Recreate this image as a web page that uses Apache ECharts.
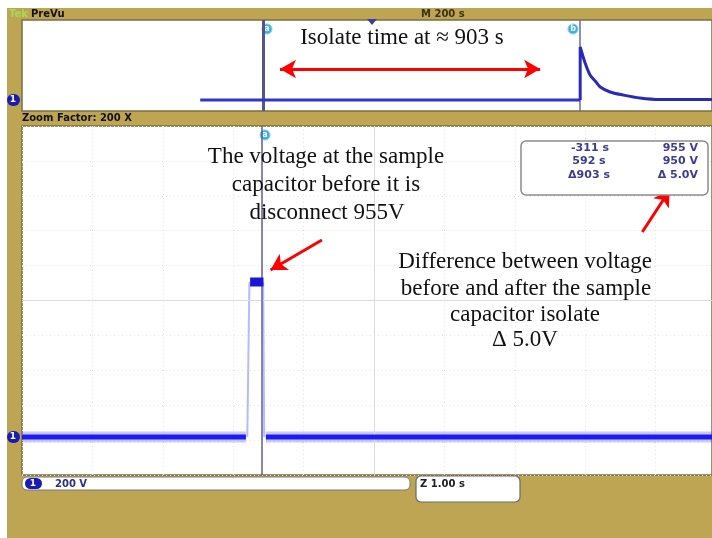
<!DOCTYPE html>
<html>
<head>
<meta charset="utf-8">
<script src="https://cdn.jsdelivr.net/npm/echarts@6/dist/echarts.min.js"></script>
<style>
  html, body { margin: 0; padding: 0; background: #fff; }
  #chart { width: 712px; height: 538px; }
</style>
</head>
<body>
<div id="chart"></div>
<script>
  // PreVu window (200 s/div), time in s, ch1 in V
  var preBase = [[-489, 0], [592, 0]];
  var preDecay = [[592, 0], [592, 955], [606, 667], [620, 450], [637, 324], [649, 234],
                  [677, 144], [714, 90], [762, 36], [819, 9], [967, 9]];
  var preCursors = [-311, 592];

  // zoom window (1 s/div, 200 V/div)
  var mainBaseLeft = [[-5, 0], [-1.82, 0]];
  var mainRiseEdge = [[-1.80, 0], [-1.77, 955]];
  var mainPulseTop = [[-1.76, 955], [-1.57, 955]];
  var mainFallEdge = [[-1.575, 955], [-1.56, 0]];
  var mainBaseRight = [[-1.536, 0], [4.8, 0]];
  var mainCursorA = -1.593;

  // cursor readout
  var readTimes = ['-311 s', '592 s', '\u0394903 s'];
  var readVolts = ['955 V', '950 V', '\u0394 5.0V'];

  var tan = '#bea553';
  var trace = '#1c1cf0';
  var red = '#ff0000';
  var serif = '"Liberation Serif", serif';
  var sans = '"DejaVu Sans", sans-serif';

  var myChart = echarts.init(document.getElementById('chart'));

  function txt(x, y, s, opt) {
    opt = opt || {};
    return {
      type: 'text', x: x, y: y, z: 100,
      style: {
        text: s,
        fill: opt.color || '#111',
        font: opt.font || ('23px ' + serif),
        textAlign: opt.align || 'center',
        textVerticalAlign: 'middle'
      }
    };
  }
  function cursorDot(x, y, letter) {
    return {
      type: 'group', x: x, y: y, z: 100,
      children: [
        { type: 'circle', shape: { cx: 0, cy: 0, r: 5 }, style: { fill: '#3ab0e4', stroke: '#7fd0f2', lineWidth: 1 } },
        { type: 'text', style: { text: letter, x: 0, y: 0, fill: '#fff', font: 'bold 8px ' + sans, textAlign: 'center', textVerticalAlign: 'middle' } }
      ]
    };
  }
  function arrow(p1, p2, both) {
    return {
      silent: true,
      symbol: [both ? 'arrow' : 'none', 'arrow'],
      symbolSize: [14, 16],
      label: { show: false },
      lineStyle: { color: red, width: 3, type: 'solid' },
      data: [[{ coord: p1 }, { coord: p2 }]]
    };
  }

  var graphics = [
    // white margin strips of the screenshot
    { type: 'rect', shape: { x: 0, y: 0, width: 712, height: 8 }, style: { fill: '#fff' }, z: 1 },
    { type: 'rect', shape: { x: 0, y: 0, width: 7, height: 538 }, style: { fill: '#fff' }, z: 1 },
    txt(9, 14, 'Tek', { font: 'bold 10px ' + sans, color: '#a6d85a', align: 'left' }),
    txt(31, 14, 'PreVu', { font: 'bold 10px ' + sans, color: '#111', align: 'left' }),
    txt(421, 14, 'M 200 s', { font: 'bold 10px ' + sans, color: '#3a3212', align: 'left' }),
    { type: 'polygon', z: 100, shape: { points: [[367, 19], [377, 19], [372, 25]] }, style: { fill: '#3c3c9c' } },
    txt(22, 118, 'Zoom Factor: 200 X', { font: 'bold 10px ' + sans, color: '#111', align: 'left' }),

    // channel markers
    { type: 'rect', z: 100, shape: { x: 7, y: 94, width: 13, height: 12, r: 6 }, style: { fill: '#1a1ab4' } },
    txt(13, 100, '1', { font: 'bold 9px ' + sans, color: '#fff' }),
    { type: 'rect', z: 100, shape: { x: 7, y: 431, width: 13, height: 12, r: 6 }, style: { fill: '#1a1ab4' } },
    txt(13, 437, '1', { font: 'bold 9px ' + sans, color: '#fff' }),

    // cursor labels
    cursorDot(267, 29, 'a'),
    cursorDot(573, 29, 'b'),
    cursorDot(265, 135, 'a'),

    // cursor readout box
    { type: 'rect', z: 90, shape: { x: 521, y: 141, width: 187, height: 54, r: 5 }, style: { fill: '#fff', stroke: '#8c8c8c', lineWidth: 1.5 } },
    cursorDot(541, 148, 'a'),
    cursorDot(541, 161, 'b'),
    txt(590, 148, readTimes[0], { font: 'bold 11px ' + sans, color: '#3c3c98' }),
    txt(589, 161, readTimes[1], { font: 'bold 11px ' + sans, color: '#3c3c98' }),
    txt(589, 175, readTimes[2], { font: 'bold 11px ' + sans, color: '#3c3c98' }),
    txt(698, 148, readVolts[0], { font: 'bold 11px ' + sans, color: '#3c3c98', align: 'right' }),
    txt(698, 161, readVolts[1], { font: 'bold 11px ' + sans, color: '#3c3c98', align: 'right' }),
    txt(698, 175, readVolts[2], { font: 'bold 11px ' + sans, color: '#3c3c98', align: 'right' }),

    // bottom status boxes
    { type: 'rect', z: 90, shape: { x: 22, y: 477, width: 388, height: 13, r: 5 }, style: { fill: '#fff', stroke: '#7a7a7a', lineWidth: 1 } },
    { type: 'rect', z: 95, shape: { x: 25, y: 478, width: 17, height: 11, r: 5.5 }, style: { fill: '#1a1ab4' } },
    txt(33, 484, '1', { font: 'bold 9px ' + sans, color: '#fff' }),
    txt(55, 484, '200 V', { font: 'bold 10px ' + sans, color: '#2c2c8c', align: 'left' }),
    { type: 'rect', z: 90, shape: { x: 416, y: 476, width: 104, height: 26, r: 5 }, style: { fill: '#fff', stroke: '#6a6a6a', lineWidth: 1.2 } },
    txt(420, 484, 'Z 1.00 s', { font: 'bold 10px ' + sans, color: '#222', align: 'left' }),

    // annotations
    txt(402, 38, 'Isolate time at \u2248 903 s'),
    txt(326, 157, 'The voltage at the sample'),
    txt(326, 185, 'capacitor before it is'),
    txt(327, 213, 'disconnect 955V'),
    txt(525, 262, 'Difference between voltage'),
    txt(526, 289, 'before and after the sample'),
    txt(525, 315, 'capacitor isolate'),
    txt(525, 340, '\u0394 5.0V')
  ];

  var gridLine = { color: '#e4e4e4', type: [1, 3], width: 1 };

  var option = {
    animation: false,
    backgroundColor: tan,
    graphic: graphics,
    grid: [
      { left: 22, top: 20, width: 690, height: 91, show: true, backgroundColor: '#fff', borderColor: '#7d6d42', borderWidth: 1.5 },
      { left: 22, top: 126, width: 690, height: 349, show: true, backgroundColor: '#fff', borderColor: '#7d6d42', borderWidth: 1.5 }
    ],
    xAxis: [
      { gridIndex: 0, type: 'value', min: -996, max: 967, show: false },
      { gridIndex: 1, type: 'value', min: -5, max: 4.8, interval: 1, show: true,
        axisLine: { show: false }, axisTick: { show: false }, axisLabel: { show: false },
        splitLine: { show: true, lineStyle: gridLine } }
    ],
    yAxis: [
      { gridIndex: 0, type: 'value', min: -198, max: 1441, show: false },
      { gridIndex: 1, type: 'value', min: -234, max: 1916, show: false },
      { gridIndex: 1, type: 'value', min: 0, max: 10, interval: 1, position: 'right', show: true,
        axisLine: { show: false }, axisTick: { show: false }, axisLabel: { show: false },
        splitLine: { show: true, lineStyle: gridLine } }
    ],
    series: [
      // PreVu trace
      { type: 'line', xAxisIndex: 0, yAxisIndex: 0, data: preBase, symbol: 'none', z: 5,
        lineStyle: { color: '#3434c8', width: 3 },
        markLine: arrow([-262, 559], [478, 559], true) },
      { type: 'line', xAxisIndex: 0, yAxisIndex: 0, data: preDecay, symbol: 'none', smooth: 0.3, z: 5,
        lineStyle: { color: '#2a2ab8', width: 3 } },
      // PreVu cursors
      { type: 'line', xAxisIndex: 0, yAxisIndex: 0, data: [], z: 6,
        markLine: { silent: true, symbol: 'none', label: { show: false },
          data: [
            { xAxis: preCursors[0], lineStyle: { color: '#55558e', width: 3, type: 'solid' } },
            { xAxis: preCursors[1], lineStyle: { color: '#6a6aa8', width: 1.5, type: 'solid' } }
          ] } },

      // zoom graticule centre lines
      { type: 'line', xAxisIndex: 1, yAxisIndex: 2, data: [], z: 3,
        markLine: { silent: true, symbol: 'none', label: { show: false },
          lineStyle: { color: '#dcdcdc', width: 1, type: 'solid' },
          data: [{ yAxis: 5 }, { xAxis: 0 }] } },

      // zoom window trace: soft halo then core
      { type: 'line', xAxisIndex: 1, yAxisIndex: 1, data: mainBaseLeft, symbol: 'none', z: 4,
        lineStyle: { color: 'rgba(40,40,255,0.25)', width: 11 } },
      { type: 'line', xAxisIndex: 1, yAxisIndex: 1, data: mainBaseRight, symbol: 'none', z: 4,
        lineStyle: { color: 'rgba(40,40,255,0.25)', width: 11 } },
      { type: 'line', xAxisIndex: 1, yAxisIndex: 1, data: mainBaseLeft, symbol: 'none', z: 5,
        lineStyle: { color: trace, width: 5 } },
      { type: 'line', xAxisIndex: 1, yAxisIndex: 1, data: mainBaseRight, symbol: 'none', z: 5,
        lineStyle: { color: trace, width: 5 },
        markLine: arrow([3.81, 1263], [4.2, 1522], false) },
      { type: 'line', xAxisIndex: 1, yAxisIndex: 1, data: mainRiseEdge, symbol: 'none', z: 4,
        lineStyle: { color: '#b4bbff', width: 2 } },
      { type: 'line', xAxisIndex: 1, yAxisIndex: 1, data: mainFallEdge, symbol: 'none', z: 4,
        lineStyle: { color: '#b4bbff', width: 2 } },
      { type: 'line', xAxisIndex: 1, yAxisIndex: 1, data: mainPulseTop, symbol: 'none', z: 5,
        lineStyle: { color: '#1818d8', width: 9 },
        markLine: arrow([-0.74, 1214], [-1.47, 1029], false) },
      // zoom cursor a
      { type: 'line', xAxisIndex: 1, yAxisIndex: 1, data: [], z: 6,
        markLine: { silent: true, symbol: 'none', label: { show: false },
          data: [{ xAxis: mainCursorA, lineStyle: { color: '#5c5ca6', width: 1.5, type: 'solid' } }] } }
    ]
  };

  myChart.setOption(option);
</script>
</body>
</html>
